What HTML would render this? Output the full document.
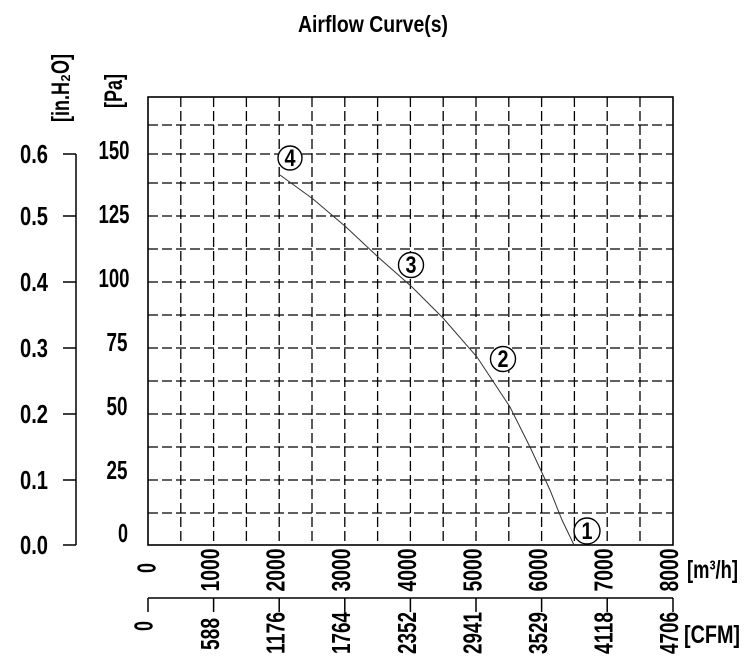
<!DOCTYPE html>
<html><head><meta charset="utf-8"><style>
html,body{margin:0;padding:0;background:#fff;}
svg{display:block;font-family:"Liberation Sans",Arial,sans-serif;font-weight:bold;}
</style></head><body>
<svg width="750" height="668" viewBox="0 0 750 668" xmlns="http://www.w3.org/2000/svg">
<text x="373" y="32" font-size="23" text-anchor="middle" textLength="150" lengthAdjust="spacingAndGlyphs">Airflow Curve(s)</text>
<g stroke="#000" stroke-width="1.3" stroke-dasharray="10,4" fill="none">
<line x1="180.8" y1="97" x2="180.8" y2="545"/><line x1="213.6" y1="97" x2="213.6" y2="545"/>
<line x1="246.4" y1="97" x2="246.4" y2="545"/><line x1="279.2" y1="97" x2="279.2" y2="545"/>
<line x1="312" y1="97" x2="312" y2="545"/><line x1="344.8" y1="97" x2="344.8" y2="545"/>
<line x1="377.6" y1="97" x2="377.6" y2="545"/><line x1="410.4" y1="97" x2="410.4" y2="545"/>
<line x1="443.2" y1="97" x2="443.2" y2="545"/><line x1="476" y1="97" x2="476" y2="545"/>
<line x1="508.8" y1="97" x2="508.8" y2="545"/><line x1="541.6" y1="97" x2="541.6" y2="545"/>
<line x1="574.4" y1="97" x2="574.4" y2="545"/><line x1="607.2" y1="97" x2="607.2" y2="545"/>
<line x1="640" y1="97" x2="640" y2="545"/>
<line x1="148" y1="125" x2="673" y2="125"/><line x1="148" y1="154" x2="673" y2="154"/>
<line x1="148" y1="183" x2="673" y2="183"/><line x1="148" y1="216" x2="673" y2="216"/>
<line x1="148" y1="249" x2="673" y2="249"/><line x1="148" y1="282" x2="673" y2="282"/>
<line x1="148" y1="315" x2="673" y2="315"/><line x1="148" y1="348" x2="673" y2="348"/>
<line x1="148" y1="381" x2="673" y2="381"/><line x1="148" y1="414" x2="673" y2="414"/>
<line x1="148" y1="447" x2="673" y2="447"/><line x1="148" y1="480" x2="673" y2="480"/>
<line x1="148" y1="513" x2="673" y2="513"/>
</g>
<rect x="148" y="97" width="525" height="448" fill="none" stroke="#000" stroke-width="1.6"/>
<polyline fill="none" stroke="#333" stroke-width="1" points="280,175 313,199 346,227 378,257 412,287 443,318 477,357 510,407 530,447 550,490 562,520 574,545"/>
<g fill="#fff" stroke="#000" stroke-width="1.4">
<circle cx="290" cy="158" r="12"/><circle cx="411" cy="265" r="12.5"/>
<circle cx="503" cy="359" r="12.5"/><circle cx="587" cy="531" r="13"/>
</g>
<g font-size="24" text-anchor="middle">
<text x="290" y="166" textLength="11" lengthAdjust="spacingAndGlyphs">4</text>
<text x="411" y="273" textLength="11" lengthAdjust="spacingAndGlyphs">3</text>
<text x="503" y="367" textLength="11" lengthAdjust="spacingAndGlyphs">2</text>
<text x="587" y="539" textLength="11" lengthAdjust="spacingAndGlyphs">1</text>
</g>
<g stroke="#000" stroke-width="1.5">
<line x1="76" y1="154" x2="76" y2="545"/>
<line x1="63" y1="154" x2="76" y2="154"/><line x1="63" y1="216" x2="76" y2="216"/>
<line x1="63" y1="282" x2="76" y2="282"/><line x1="63" y1="348" x2="76" y2="348"/>
<line x1="63" y1="414" x2="76" y2="414"/><line x1="63" y1="480" x2="76" y2="480"/>
<line x1="63" y1="545" x2="76" y2="545"/>
</g>
<g font-size="26" text-anchor="end">
<text x="48" y="163" textLength="28" lengthAdjust="spacingAndGlyphs">0.6</text>
<text x="48" y="225" textLength="28" lengthAdjust="spacingAndGlyphs">0.5</text>
<text x="48" y="291" textLength="28" lengthAdjust="spacingAndGlyphs">0.4</text>
<text x="48" y="357" textLength="28" lengthAdjust="spacingAndGlyphs">0.3</text>
<text x="48" y="423" textLength="28" lengthAdjust="spacingAndGlyphs">0.2</text>
<text x="48" y="489" textLength="28" lengthAdjust="spacingAndGlyphs">0.1</text>
<text x="48" y="554" textLength="28" lengthAdjust="spacingAndGlyphs">0.0</text>
</g>
<g font-size="26" text-anchor="middle">
<text x="114" y="159" textLength="31" lengthAdjust="spacingAndGlyphs">150</text>
<text x="114" y="223" textLength="31" lengthAdjust="spacingAndGlyphs">125</text>
<text x="114" y="287" textLength="31" lengthAdjust="spacingAndGlyphs">100</text>
<text x="117" y="351" textLength="21" lengthAdjust="spacingAndGlyphs">75</text>
<text x="117" y="415" textLength="21" lengthAdjust="spacingAndGlyphs">50</text>
<text x="117" y="479" textLength="21" lengthAdjust="spacingAndGlyphs">25</text>
<text x="123" y="542" textLength="10" lengthAdjust="spacingAndGlyphs">0</text>
</g>
<text transform="translate(69,88) rotate(-90)" font-size="25" text-anchor="middle" textLength="68" lengthAdjust="spacingAndGlyphs">[in.H₂O]</text>
<text transform="translate(122,91) rotate(-90)" font-size="25" text-anchor="middle" textLength="34" lengthAdjust="spacingAndGlyphs">[Pa]</text>
<g font-size="26" text-anchor="middle">
<text transform="translate(155.5,568) rotate(-90)" textLength="10" lengthAdjust="spacingAndGlyphs">0</text>
<text transform="translate(219,570) rotate(-90)" textLength="43" lengthAdjust="spacingAndGlyphs">1000</text>
<text transform="translate(284.6,570) rotate(-90)" textLength="43" lengthAdjust="spacingAndGlyphs">2000</text>
<text transform="translate(350.2,570) rotate(-90)" textLength="43" lengthAdjust="spacingAndGlyphs">3000</text>
<text transform="translate(415.8,570) rotate(-90)" textLength="43" lengthAdjust="spacingAndGlyphs">4000</text>
<text transform="translate(481.4,570) rotate(-90)" textLength="43" lengthAdjust="spacingAndGlyphs">5000</text>
<text transform="translate(547,570) rotate(-90)" textLength="43" lengthAdjust="spacingAndGlyphs">6000</text>
<text transform="translate(612.6,570) rotate(-90)" textLength="43" lengthAdjust="spacingAndGlyphs">7000</text>
<text transform="translate(678.2,570) rotate(-90)" textLength="43" lengthAdjust="spacingAndGlyphs">8000</text>
</g>
<text x="687" y="578" font-size="25" textLength="51" lengthAdjust="spacingAndGlyphs">[m³/h]</text>
<g stroke="#000" stroke-width="1.5">
<line x1="148" y1="598" x2="673" y2="598"/>
<line x1="148" y1="598" x2="148" y2="612"/><line x1="213.6" y1="598" x2="213.6" y2="612"/>
<line x1="279.2" y1="598" x2="279.2" y2="612"/><line x1="344.8" y1="598" x2="344.8" y2="612"/>
<line x1="410.4" y1="598" x2="410.4" y2="612"/><line x1="476" y1="598" x2="476" y2="612"/>
<line x1="541.6" y1="598" x2="541.6" y2="612"/><line x1="607.2" y1="598" x2="607.2" y2="612"/>
<line x1="673" y1="598" x2="673" y2="612"/>
</g>
<g font-size="26" text-anchor="middle">
<text transform="translate(152.5,626) rotate(-90)" textLength="10" lengthAdjust="spacingAndGlyphs">0</text>
<text transform="translate(219,634) rotate(-90)" textLength="32" lengthAdjust="spacingAndGlyphs">588</text>
<text transform="translate(284.6,633) rotate(-90)" textLength="42" lengthAdjust="spacingAndGlyphs">1176</text>
<text transform="translate(350.2,633) rotate(-90)" textLength="42" lengthAdjust="spacingAndGlyphs">1764</text>
<text transform="translate(415.8,633) rotate(-90)" textLength="42" lengthAdjust="spacingAndGlyphs">2352</text>
<text transform="translate(481.4,633) rotate(-90)" textLength="42" lengthAdjust="spacingAndGlyphs">2941</text>
<text transform="translate(547,633) rotate(-90)" textLength="42" lengthAdjust="spacingAndGlyphs">3529</text>
<text transform="translate(612.6,633) rotate(-90)" textLength="42" lengthAdjust="spacingAndGlyphs">4118</text>
<text transform="translate(678.2,633) rotate(-90)" textLength="42" lengthAdjust="spacingAndGlyphs">4706</text>
</g>
<text x="684" y="643" font-size="25" textLength="56" lengthAdjust="spacingAndGlyphs">[CFM]</text>
</svg>
</body></html>
